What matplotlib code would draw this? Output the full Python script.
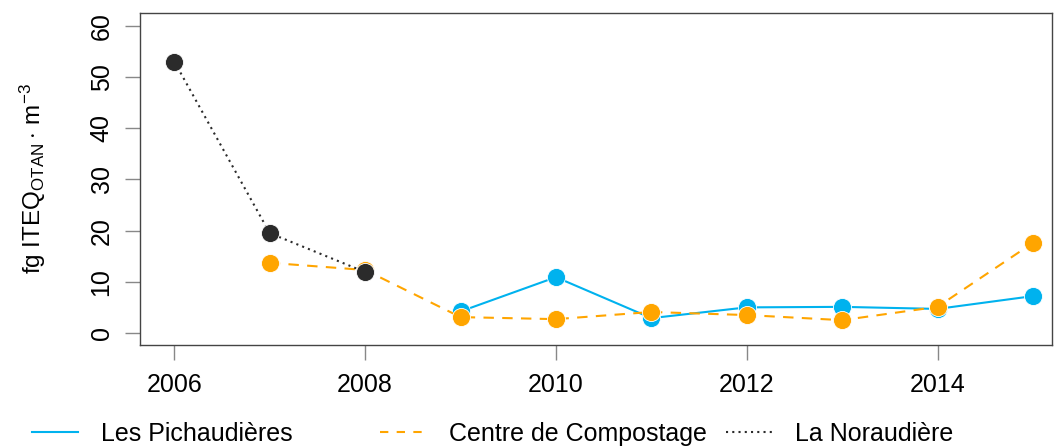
import numpy as np
import matplotlib
matplotlib.use("Agg")
import matplotlib.pyplot as plt

plt.rcParams['font.family'] = ['Liberation Sans', 'DejaVu Sans']
plt.rcParams['mathtext.fontset'] = 'custom'
plt.rcParams['mathtext.rm'] = 'Liberation Sans'
plt.rcParams['mathtext.it'] = 'Liberation Sans:italic'

# data
years_pich = [2009, 2010, 2011, 2012, 2013, 2014, 2015]
vals_pich = [4.2, 10.9, 2.9, 5.0, 5.1, 4.7, 7.2]

years_comp = [2007, 2008, 2009, 2010, 2011, 2012, 2013, 2014, 2015]
vals_comp = [13.7, 12.3, 3.1, 2.7, 4.1, 3.5, 2.5, 5.1, 17.6]

years_nor = [2006, 2007, 2008]
vals_nor = [53.0, 19.5, 11.9]

labels = ["Les Pichaudières", "Centre de Compostage", "La Noraudière"]
colors = ["#00B2EE", "#FFA500", "#2B2B2B"]

fig = plt.figure(figsize=(10.55, 4.46), dpi=100)
ax = fig.add_axes([140 / 1055, 101 / 446, 912 / 1055, 332 / 446])

ax.plot(years_pich, vals_pich, color=colors[0], lw=1.5, ls='-',
        marker='o', ms=13, mec='white', mew=0.6, zorder=3)
ax.plot(years_comp, vals_comp, color=colors[1], lw=1.5, ls=(0, (5, 4)),
        marker='o', ms=13, mec='white', mew=0.6, zorder=4)
ax.plot(years_nor, vals_nor, color=colors[2], lw=1.5, ls=(0, (1, 2)),
        marker='o', ms=13, mec='white', mew=0.6, zorder=5)

ax.set_xlim(2005.64, 2015.2)
ax.set_ylim(-2.35, 62.5)
ax.set_xticks([2006, 2008, 2010, 2012, 2014])
ax.set_yticks([0, 10, 20, 30, 40, 50, 60])
ax.tick_params(axis='both', length=11, width=1, color='#888888', labelsize=18,
               direction='out')
ax.tick_params(axis='x', pad=9)
ax.tick_params(axis='y', pad=8)
for lab in ax.get_yticklabels():
    lab.set_rotation(90)
    lab.set_va('center')
for sp in ax.spines.values():
    sp.set_color('#444444')
    sp.set_linewidth(1)

ax.set_ylabel(r'fg ITEQ$_{\mathrm{OTAN}}\cdot\,\mathrm{m}^{-3}$', fontsize=17.5, labelpad=30)

# legend, one entry per slot like the reference
handles = [
    plt.Line2D([], [], color=colors[0], lw=1.5, ls='-'),
    plt.Line2D([], [], color=colors[1], lw=1.5, ls=(0, (4, 4))),
    plt.Line2D([], [], color=colors[2], lw=1.5, ls=(0, (1, 2))),
]
xs = [32, 380, 726]
for h, lab, x in zip(handles, labels, xs):
    fig.legend([h], [lab], loc='center left', bbox_to_anchor=(x / 1055, 1 - 434 / 446),
               frameon=False, fontsize=18, handlelength=1.85, handletextpad=0.9,
               borderpad=0, borderaxespad=0)

fig.savefig("out.png", dpi=100)
